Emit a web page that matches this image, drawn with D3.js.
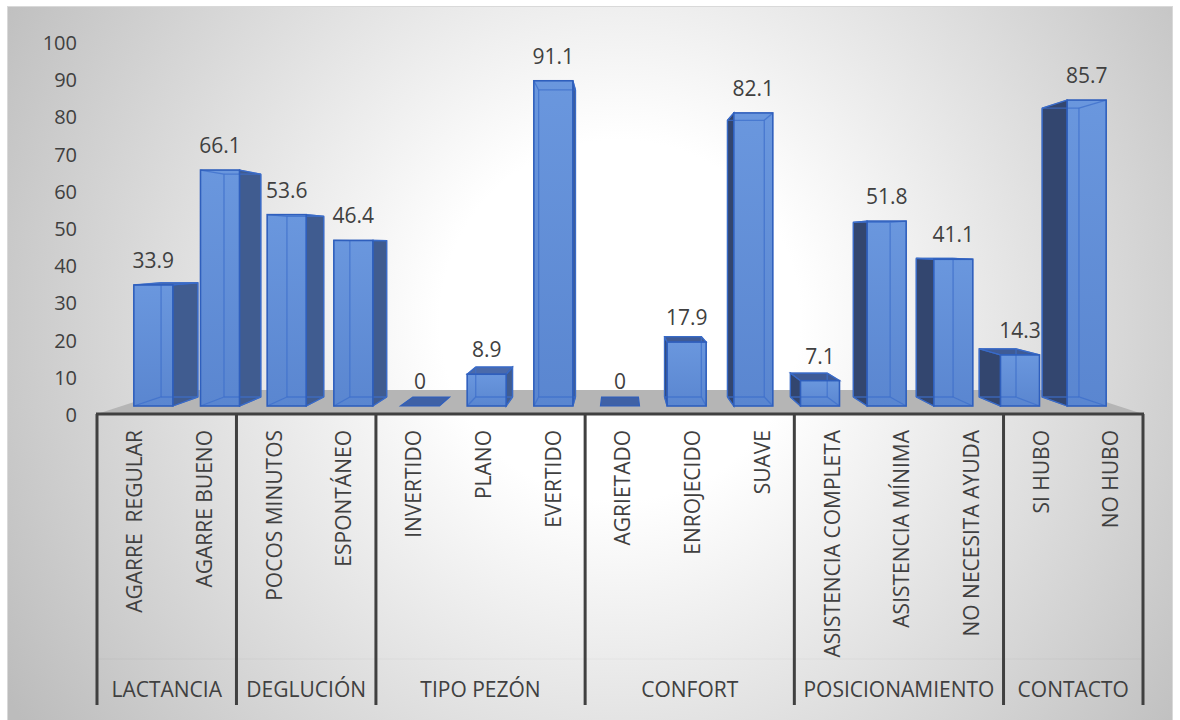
<!DOCTYPE html>
<html>
<head>
<meta charset="utf-8">
<script src="https://cdn.jsdelivr.net/npm/d3@7"></script>
<style>
  html, body { margin: 0; padding: 0; background: #ffffff; }
  svg { display: block; font-family: "Open Sans", "DejaVu Sans", sans-serif; }
</style>
</head>
<body>
<svg id="chart" width="1180" height="720"></svg>
<script>
// ---- data ----
const groups = ["LACTANCIA", "DEGLUCIÓN", "TIPO PEZÓN", "CONFORT", "POSICIONAMIENTO", "CONTACTO"];
const groupSizes = [2, 2, 3, 3, 3, 2];
const items = [
  "AGARRE  REGULAR", "AGARRE BUENO",
  "POCOS MINUTOS", "ESPONTÁNEO",
  "INVERTIDO", "PLANO", "EVERTIDO",
  "AGRIETADO", "ENROJECIDO", "SUAVE",
  "ASISTENCIA COMPLETA", "ASISTENCIA MÍNIMA", "NO NECESITA AYUDA",
  "SI HUBO", "NO HUBO"
];
const values = [33.9, 66.1, 53.6, 46.4, 0, 8.9, 91.1, 0, 17.9, 82.1, 7.1, 51.8, 41.1, 14.3, 85.7];
const yTicks = [0, 10, 20, 30, 40, 50, 60, 70, 80, 90, 100];

// ---- layout ----
const svg = d3.select("#chart");
const idx = d3.range(items.length);

// category slots (axis / labels table)
const xSlot = d3.scaleBand().domain(idx).range([97, 1143]).padding(0);
// bar front faces (set back from the axis plane)
const xBar = d3.scaleBand().domain(idx).range([120, 1120]).paddingInner(0.415).paddingOuter(0.2075);
// value axis (back wall) and bar heights (front faces)
const yAxis = d3.scaleLinear().domain([0, 100]).range([415, 43]);
const yBar = d3.scaleLinear().domain([0, 100]).range([406, 49]);

// perspective
const vp = [620, 245];
const depth = 0.944;   // bar depth factor
const floorDepth = 0.858;
const proj = (p, k) => [vp[0] + (p[0] - vp[0]) * k, vp[1] + (p[1] - vp[1]) * k];

// ---- background ----
const defs = svg.append("defs");
const rg = defs.append("radialGradient").attr("id", "bg")
  .attr("gradientUnits", "userSpaceOnUse")
  .attr("cx", 620).attr("cy", 320).attr("r", 720);
rg.append("stop").attr("offset", 0).attr("stop-color", "#ffffff");
rg.append("stop").attr("offset", 0.25).attr("stop-color", "#ffffff");
rg.append("stop").attr("offset", 1).attr("stop-color", "#bcbcbc");

const fg = defs.append("linearGradient").attr("id", "frontGrad")
  .attr("x1", 0).attr("y1", 0).attr("x2", 0).attr("y2", 1);
fg.append("stop").attr("offset", 0).attr("stop-color", "#6a97de");
fg.append("stop").attr("offset", 1).attr("stop-color", "#5a86d0");

svg.append("rect").attr("x", 7.5).attr("y", 6.5).attr("width", 1165).attr("height", 730)
  .attr("fill", "url(#bg)").attr("stroke", "#d9d9d9").attr("stroke-width", 1);

// ---- floor ----
const fL = [97, 414], fR = [1143, 414];
const floorPts = [fL, fR, proj(fR, floorDepth), proj(fL, floorDepth)];
svg.append("polygon").attr("points", floorPts.map(p => p.join(",")).join(" "))
  .attr("fill", "#b5b5b5");

// ---- Y axis labels ----
svg.append("g").selectAll("text").data(yTicks).join("text")
  .attr("x", 77).attr("y", d => yAxis(d)).attr("dy", "0.35em")
  .attr("text-anchor", "end").attr("font-size", 20).attr("fill", "#404040")
  .text(d => d);

// ---- bars ----
const line = pts => "M" + pts.map(p => p.join(",")).join("L") + "Z";
const barsG = svg.append("g");
idx.forEach(i => {
  const v = values[i];
  const x0 = xBar(i), x1 = xBar(i) + xBar.bandwidth();
  const yT = yBar(v), yB = yBar(0);
  const F = { tl: [x0, yT], tr: [x1, yT], br: [x1, yB], bl: [x0, yB] };
  const B = { tl: proj(F.tl, depth), tr: proj(F.tr, depth), br: proj(F.br, depth), bl: proj(F.bl, depth) };
  const g = barsG.append("g");
  const edge = "#2f5fbd";
  if (v === 0) {
    g.append("path").attr("d", line([F.bl, F.br, B.br, B.bl]))
      .attr("fill", "#3f61a6").attr("stroke", edge).attr("stroke-width", 1.2);
    return;
  }
  // side faces
  if (B.tr[0] > F.tr[0] + 0.5) {
    g.append("path").attr("d", line([F.tr, B.tr, B.br, F.br]))
      .attr("fill", "#405c90").attr("stroke", edge).attr("stroke-width", 1.2);
  }
  if (B.tl[0] < F.tl[0] - 0.5) {
    g.append("path").attr("d", line([F.tl, B.tl, B.bl, F.bl]))
      .attr("fill", "#33466f").attr("stroke", edge).attr("stroke-width", 1.2);
  }
  // top face (visible only when below eye level)
  if (B.tl[1] < F.tl[1] - 0.3) {
    g.append("path").attr("d", line([F.tl, F.tr, B.tr, B.tl]))
      .attr("fill", F.tl[0] < vp[0] ? "#4a6aab" : "#3f5b96").attr("stroke", edge).attr("stroke-width", 1.2);
  }
  // front face
  g.append("rect").attr("x", x0).attr("y", yT).attr("width", x1 - x0).attr("height", yB - yT)
    .attr("fill", "url(#frontGrad)");
  // hidden (back) edges seen through the translucent bar
  const hidden = [
    [B.tl, B.bl], [B.tr, B.br], [B.bl, B.br], [B.tl, B.tr],
    [F.bl, B.bl], [F.br, B.br], [F.tl, B.tl], [F.tr, B.tr]
  ];
  hidden.forEach(([a, b]) => {
    g.append("line").attr("x1", a[0]).attr("y1", a[1]).attr("x2", b[0]).attr("y2", b[1])
      .attr("stroke", "#3e6fcb").attr("stroke-opacity", 0.75).attr("stroke-width", 1.3);
  });
  g.append("rect").attr("x", x0).attr("y", yT).attr("width", x1 - x0).attr("height", yB - yT)
    .attr("fill", "none").attr("stroke", edge).attr("stroke-width", 1.6);
});

// ---- data labels ----
svg.append("g").selectAll("text").data(idx).join("text")
  .attr("x", i => xBar(i) + xBar.bandwidth() / 2)
  .attr("y", i => yBar(values[i]) - 17)
  .attr("text-anchor", "middle").attr("font-size", 21).attr("fill", "#404040")
  .text(i => values[i]);

// ---- category axis (table) ----
const axisG = svg.append("g");
axisG.append("line").attr("x1", 97).attr("x2", 1143).attr("y1", 659).attr("y2", 659)
  .attr("stroke", "#000").attr("stroke-opacity", 0.03);
axisG.append("line").attr("x1", 96).attr("x2", 1144).attr("y1", 414).attr("y2", 414)
  .attr("stroke", "#404040").attr("stroke-width", 3);

let start = 0;
const groupBounds = groups.map((g, gi) => {
  const s = start, e = start + groupSizes[gi] - 1;
  start += groupSizes[gi];
  return { name: g, x0: xSlot(s), x1: xSlot(e) + xSlot.bandwidth() };
});
const sepX = [groupBounds[0].x0].concat(groupBounds.map(b => b.x1));
axisG.selectAll("line.sep").data(sepX).join("line").attr("class", "sep")
  .attr("x1", d => d).attr("x2", d => d).attr("y1", 414).attr("y2", 705)
  .attr("stroke", "#404040").attr("stroke-width", 3);

axisG.selectAll("text.item").data(idx).join("text").attr("class", "item")
  .attr("transform", i => `translate(${xSlot(i) + xSlot.bandwidth() / 2 + 3},430) rotate(-90)`)
  .attr("dy", "0.35em").attr("text-anchor", "end")
  .attr("font-size", 21).attr("fill", "#404040")
  .style("white-space", "pre")
  .text(i => items[i]);

axisG.selectAll("text.grp").data(groupBounds).join("text").attr("class", "grp")
  .attr("x", d => (d.x0 + d.x1) / 2).attr("y", 697)
  .attr("text-anchor", "middle").attr("font-size", 21).attr("fill", "#404040")
  .text(d => d.name);
</script>
</body>
</html>
